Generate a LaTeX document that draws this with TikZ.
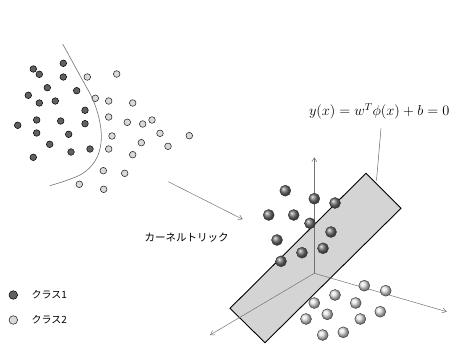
\documentclass[tikz,border=0pt]{standalone}
\usepackage{fontspec}
\newfontfamily\jp{Noto Sans CJK JP}
\usetikzlibrary{arrows.meta}
\tikzset{
  darkdot/.style={draw=black,fill=black!62,line width=0.5pt},
  lightdot/.style={draw=black!85,fill=black!15,line width=0.55pt},
  darkball/.style={draw=black!80,shading=ball,ball color=black!55,line width=0.4pt},
  lightball/.style={draw=black!80,shading=ball,ball color=white!90!black,line width=0.4pt},
  axis/.style={draw=black!55,line width=0.5pt,-{Straight Barb[length=4pt,width=5pt]}}
}
\begin{document}
\begin{tikzpicture}[x=1pt,y=-1pt]
\useasboundingbox (0,0) rectangle (450,344);
% input space
\foreach \p in {(33.3,69),(39.3,74.3),(63.3,63.3),(63.3,77),(47.3,87.7),(76.7,90.7),
  (28.3,95.3),(39.3,103),(55.3,101),(85,110.3),(36.7,120),(60.7,121),(85,123.7),
  (17.7,125.3),(36.7,133),(68.7,134.3),(49.7,144.3),(90,149),(71,152),(33.3,157.3)}
  \draw[darkdot] \p circle (3.3);
\foreach \p in {(87.3,77),(116.7,74),(95.3,98.3),(108.7,101),(132.7,103),(108.7,117),
  (127.3,122.3),(142.7,124),(152,120),(160,133.3),(189.3,135.7),(112,136),(141.3,142.7),
  (168,146.3),(108.7,149),(132.7,154.7),(103.3,170.7),(124.7,173.3),(79.3,184.3),(103.7,189.3)}
  \draw[lightdot] \p circle (3.3);
\draw[black!55,line width=0.6pt] plot[smooth,tension=0.6] coordinates {(62.7,44) (78,72) (93,100)
  (100,123) (101,143) (95,161) (80,175) (50,185.7)};
% kernel trick arrow
\coordinate (from) at (168.3,181.7);
\coordinate (to) at (242.7,219.3);
\draw[axis] (from) -- (to);
\node[font=\jp\fontsize{10.5}{12}\selectfont] (trick) at (186.7,238) {カーネルトリック};
% feature space
\coordinate (o) at (314.3,273.3);
\coordinate (p1) at (366,173.3);
\coordinate (p2) at (401,208.3);
\coordinate (p3) at (265,342.7);
\coordinate (p4) at (230,308.3);
\draw[fill=black!17,line width=0.9pt,line join=miter] (p1) -- (p2) -- (p3) -- (p4) -- cycle;
\draw[axis] (o) -- (314.3,157.3);
\draw[axis] (o) -- (446.7,311.7);
\draw[axis] (o) -- (210,335);
\foreach \p in {(285.3,190.7),(314.3,198.7),(335,203),(268.7,215),(293.7,215),(310,223.3),
  (331,232),(277,240),(302,252.7),(323,248.3),(281,261.3)}
  \draw[darkball] \p circle (5.5);
\foreach \p in {(364.3,285.7),(385.7,290.7),(335,295),(355.7,303),(314.3,303),(380.3,311.7),
  (327.3,314.3),(306,319),(360.3,319),(322.7,335),(343.3,332.3)}
  \draw[lightball] \p circle (5.5);
% hyperplane label
\node[font=\fontsize{14.5}{16}\selectfont] (eq) at (379.2,111.5) {$y\bigl(x\bigr)=w^T\phi\bigl(x\bigr)+b=0$};
\coordinate (tick) at (376.5,180.5);
\draw[black!60,line width=0.5pt] (381,128.3) -- (tick);
% legend
\draw[darkdot] (13.3,295) circle (4.3);
\node[anchor=west,font=\jp\fontsize{10}{12}\selectfont] (c1) at (28,295) {クラス1};
\draw[lightdot] (13.3,320) circle (4.3);
\node[anchor=west,font=\jp\fontsize{10}{12}\selectfont] (c2) at (28,320) {クラス2};
\end{tikzpicture}
\end{document}
